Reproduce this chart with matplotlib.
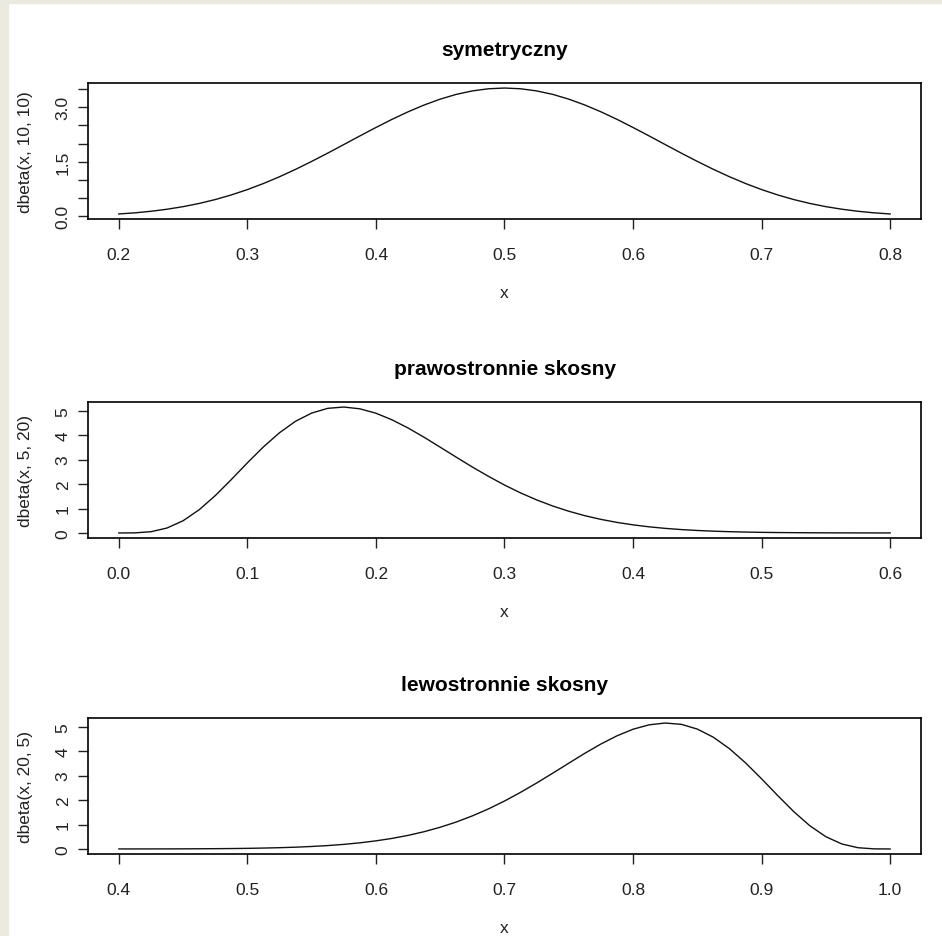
import matplotlib.pyplot as plt
import matplotlib.patches as patches
import numpy as np

plt.rcParams['font.family'] = ['Liberation Sans', 'DejaVu Sans']

# values (step 0.0125)
x_sym = [0.2000, 0.2125, 0.2250, 0.2375, 0.2500, 0.2625, 0.2750, 0.2875, 0.3000, 0.3125,
         0.3250, 0.3375, 0.3500, 0.3625, 0.3750, 0.3875, 0.4000, 0.4125, 0.4250, 0.4375,
         0.4500, 0.4625, 0.4750, 0.4875, 0.5000, 0.5125, 0.5250, 0.5375, 0.5500, 0.5625,
         0.5750, 0.5875, 0.6000, 0.6125, 0.6250, 0.6375, 0.6500, 0.6625, 0.6750, 0.6875,
         0.7000, 0.7125, 0.7250, 0.7375, 0.7500, 0.7625, 0.7750, 0.7875, 0.8000]
y_sym = [0.064, 0.095, 0.138, 0.194, 0.265, 0.353, 0.460, 0.587, 0.734, 0.901,
         1.087, 1.290, 1.508, 1.736, 1.971, 2.208, 2.440, 2.664, 2.871, 3.058,
         3.219, 3.350, 3.445, 3.504, 3.524, 3.504, 3.445, 3.350, 3.219, 3.058,
         2.871, 2.664, 2.440, 2.208, 1.971, 1.736, 1.508, 1.290, 1.087, 0.901,
         0.734, 0.587, 0.460, 0.353, 0.265, 0.194, 0.138, 0.095, 0.064]

x_right = [0.0000, 0.0125, 0.0250, 0.0375, 0.0500, 0.0625, 0.0750, 0.0875, 0.1000, 0.1125,
           0.1250, 0.1375, 0.1500, 0.1625, 0.1750, 0.1875, 0.2000, 0.2125, 0.2250, 0.2375,
           0.2500, 0.2625, 0.2750, 0.2875, 0.3000, 0.3125, 0.3250, 0.3375, 0.3500, 0.3625,
           0.3750, 0.3875, 0.4000, 0.4125, 0.4250, 0.4375, 0.4500, 0.4625, 0.4750, 0.4875,
           0.5000, 0.5125, 0.5250, 0.5375, 0.5500, 0.5625, 0.5750, 0.5875, 0.6000]
y_right = [0.000, 0.004, 0.051, 0.203, 0.501, 0.951, 1.529, 2.187, 2.871, 3.525,
           4.104, 4.573, 4.907, 5.101, 5.154, 5.081, 4.901, 4.631, 4.296, 3.916,
           3.510, 3.101, 2.699, 2.318, 1.962, 1.639, 1.354, 1.103, 0.889, 0.707,
           0.556, 0.432, 0.332, 0.251, 0.188, 0.139, 0.102, 0.073, 0.052, 0.037,
           0.025, 0.017, 0.012, 0.008, 0.005, 0.0035, 0.002, 0.0014, 0.001]

x_left = [0.4000, 0.4125, 0.4250, 0.4375, 0.4500, 0.4625, 0.4750, 0.4875, 0.5000, 0.5125,
          0.5250, 0.5375, 0.5500, 0.5625, 0.5750, 0.5875, 0.6000, 0.6125, 0.6250, 0.6375,
          0.6500, 0.6625, 0.6750, 0.6875, 0.7000, 0.7125, 0.7250, 0.7375, 0.7500, 0.7625,
          0.7750, 0.7875, 0.8000, 0.8125, 0.8250, 0.8375, 0.8500, 0.8625, 0.8750, 0.8875,
          0.9000, 0.9125, 0.9250, 0.9375, 0.9500, 0.9625, 0.9750, 0.9875, 1.0000]
y_left = [0.001, 0.0014, 0.002, 0.0035, 0.005, 0.008, 0.012, 0.017, 0.025, 0.037,
          0.052, 0.073, 0.102, 0.139, 0.188, 0.251, 0.332, 0.432, 0.556, 0.707,
          0.889, 1.103, 1.354, 1.639, 1.962, 2.318, 2.699, 3.101, 3.510, 3.916,
          4.296, 4.631, 4.901, 5.081, 5.154, 5.101, 4.907, 4.573, 4.104, 3.525,
          2.871, 2.187, 1.529, 0.951, 0.501, 0.203, 0.051, 0.004, 0.000]

titles = ["symetryczny", "prawostronnie skosny", "lewostronnie skosny"]
ylabels = ["dbeta(x, 10, 10)", "dbeta(x, 5, 20)", "dbeta(x, 20, 5)"]
xticks = [[0.2, 0.3, 0.4, 0.5, 0.6, 0.7, 0.8],
          [0.0, 0.1, 0.2, 0.3, 0.4, 0.5, 0.6],
          [0.4, 0.5, 0.6, 0.7, 0.8, 0.9, 1.0]]
yticks = [[0.0, 0.5, 1.0, 1.5, 2.0, 2.5, 3.0, 3.5],
          [0, 1, 2, 3, 4, 5],
          [0, 1, 2, 3, 4, 5]]
yticklabels = [["0.0", "", "", "1.5", "", "", "3.0", ""],
               ["0", "1", "2", "3", "4", "5"],
               ["0", "1", "2", "3", "4", "5"]]

fig = plt.figure(figsize=(9.42, 9.37), dpi=100)
fig.patch.set_facecolor('white')

# window-ish beige border on the left and top
fig.patches.append(patches.Rectangle((0, 0), 8 / 942, 1, transform=fig.transFigure,
                                     color='#ECE9DF', zorder=0))
fig.patches.append(patches.Rectangle((0, 1 - 4 / 937), 1, 4 / 937, transform=fig.transFigure,
                                     color='#ECE9DF', zorder=0))

bottoms = [1 - 220 / 937, 1 - 539 / 937, 1 - 855 / 937]
data = [(x_sym, y_sym), (x_right, y_right), (x_left, y_left)]

for i in range(3):
    ax = fig.add_axes([88 / 942, bottoms[i], 833 / 942, 136 / 937])
    xs, ys = data[i]
    ax.plot(xs, ys, color='#111111', linewidth=1.0)
    ax.margins(x=0.04, y=0.04)
    ax.set_xticks(xticks[i])
    ax.set_xticklabels(["%.1f" % t for t in xticks[i]])
    ax.set_yticks(yticks[i])
    ax.set_yticklabels(yticklabels[i], rotation=90, va='center')
    ax.tick_params(direction='out', length=7.5, width=1.0, labelsize=12.5, pad=5,
                   colors='#222222')
    ax.tick_params(axis='x', pad=12.5)
    for s in ax.spines.values():
        s.set_linewidth(1.2)
    ax.set_title(titles[i], fontsize=15, fontweight='bold', pad=20)
    ax.set_xlabel("x", fontsize=12.5, labelpad=17, color='#222222')
    ax.set_ylabel(ylabels[i], fontsize=12.5, labelpad=16, color='#222222')

fig.savefig("out.png", dpi=100)
